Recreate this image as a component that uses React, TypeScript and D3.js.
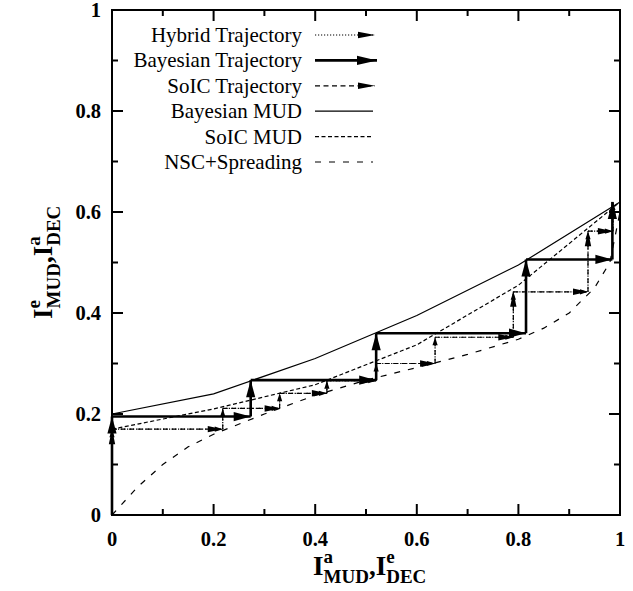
import React from 'react';
import * as d3 from 'd3';

// axis ticks
const majorTicks = [0, 0.2, 0.4, 0.6, 0.8, 1];
const tickLabels = ['0', '0.2', '0.4', '0.6', '0.8', '1'];
const minorTicks = [0.1, 0.3, 0.5, 0.7, 0.9];

// transfer curves
const bayesMudX = [0, 0.2, 0.4, 0.6, 0.8, 1];
const bayesMudY = [0.2, 0.24, 0.31, 0.395, 0.495, 0.62];
const soicMudX = [0, 0.2, 0.4, 0.6, 0.8, 1];
const soicMudY = [0.17, 0.21, 0.258, 0.337, 0.455, 0.62];
const nscX = [0, 0.05, 0.1, 0.15, 0.2, 0.3, 0.4, 0.5, 0.6, 0.7, 0.8, 0.85, 0.9, 0.95, 0.98, 1];
const nscY = [0, 0.055, 0.1, 0.135, 0.16, 0.2, 0.237, 0.267, 0.292, 0.318, 0.348, 0.37, 0.4, 0.45, 0.5, 0.6];

// trajectories (corner points)
const bayesTrajX = [0, 0, 0.273, 0.273, 0.52, 0.52, 0.815, 0.815, 0.985, 0.985];
const bayesTrajY = [0, 0.195, 0.195, 0.267, 0.267, 0.36, 0.36, 0.506, 0.506, 0.62];
const soicTrajX = [0, 0, 0.218, 0.218, 0.33, 0.33, 0.423, 0.423, 0.52, 0.52, 0.636, 0.636, 0.79, 0.79, 0.937, 0.937, 0.986, 0.986];
const soicTrajY = [0, 0.17, 0.17, 0.211, 0.211, 0.241, 0.241, 0.266, 0.266, 0.3, 0.3, 0.352, 0.352, 0.442, 0.442, 0.562, 0.562, 0.62];
// which SoIC steps carry the larger head (the others only show the hybrid head)
const soicHead = [1, 1, 0, 1, 0, 1, 0, 1, 0, 1, 0, 1, 1, 1, 1, 1, 1];

const legendNames = ['Hybrid Trajectory', 'Bayesian Trajectory', 'SoIC Trajectory', 'Bayesian MUD', 'SoIC MUD', 'NSC+Spreading'];

const W = 633, H = 591;
const font = "'Liberation Serif', 'DejaVu Serif', serif";

type Pt = [number, number];

const head = (a: Pt, b: Pt, len: number, hw: number) => {
  const dx = b[0] - a[0], dy = b[1] - a[1];
  const d = Math.hypot(dx, dy) || 1;
  const ux = dx / d, uy = dy / d;
  const bx = b[0] - ux * len, by = b[1] - uy * len;
  return `M${b[0]},${b[1]}L${bx - uy * hw},${by + ux * hw}L${bx + uy * hw},${by - ux * hw}Z`;
};

const Arrows = ({ pts, width, dash, len, hw, heads }: { pts: Pt[]; width: number; dash?: string; len: number; hw: number; heads?: number[] }) => (
  <g>
    {pts.slice(1).map((p, i) => {
      const a = pts[i];
      const show = heads ? heads[i] : 1;
      return (
        <g key={i}>
          <line x1={a[0]} y1={a[1]} x2={p[0]} y2={p[1]} stroke="#000" strokeWidth={width} strokeDasharray={dash} />
          {show ? <path d={head(a, p, len, hw)} fill="#000" /> : null}
        </g>
      );
    })}
  </g>
);

export default function App() {
  const x = d3.scaleLinear().domain([0, 1]).range([112, 620]);
  const y = d3.scaleLinear().domain([0, 1]).range([515, 10]);
  const line = d3.line<number>();

  const curve = (xs: number[], ys: number[]) =>
    d3.line<number>().x((_, i) => x(xs[i])).y((_, i) => y(ys[i]))(xs);

  const bayesPts: Pt[] = bayesTrajX.map((v, i) => [x(v), y(bayesTrajY[i])]);
  const soicPts: Pt[] = soicTrajX.map((v, i) => [x(v), y(soicTrajY[i])]);

  const ticks = (vals: number[], len: number) =>
    vals.map((v) => (
      <g key={`t${v}-${len}`}>
        <line x1={x(v)} x2={x(v)} y1={y(0)} y2={y(0) - len} />
        <line x1={x(v)} x2={x(v)} y1={y(1)} y2={y(1) + len} />
        <line x1={x(0)} x2={x(0) + len} y1={y(v)} y2={y(v)} />
        <line x1={x(1)} x2={x(1) - len} y1={y(v)} y2={y(v)} />
      </g>
    ));

  const lx0 = 315, lx1 = 375, ltx = 302;
  const ly = (i: number) => 35 + i * 25.4;
  const ts = { fontFamily: font };

  return (
    <svg width={W} height={H} style={{ position: 'absolute', left: 0, top: 0, background: '#fff', fontFamily: font }}>
      <rect width={W} height={H} fill="#fff" />

      {/* curves */}
      <path d={curve(bayesMudX, bayesMudY) || ''} fill="none" stroke="#000" strokeWidth={1.2} />
      <path d={curve(soicMudX, soicMudY) || ''} fill="none" stroke="#000" strokeWidth={1.2} strokeDasharray="4,2.5" />
      <path d={curve(nscX, nscY) || ''} fill="none" stroke="#000" strokeWidth={1.2} strokeDasharray="6,8" />

      {/* trajectories */}
      <Arrows pts={soicPts} width={1.2} dash="1.2,1.8" len={8} hw={2.6} />
      <Arrows pts={soicPts} width={1.2} dash="5,3.5" len={15} hw={3.2} heads={soicHead} />
      <Arrows pts={bayesPts} width={2.6} len={17} hw={4.6} />

      {/* frame and ticks */}
      <g stroke="#000" strokeWidth={2}>
        {ticks(majorTicks, 11)}
        {ticks(minorTicks, 6)}
        <rect x={x(0)} y={y(1)} width={x(1) - x(0)} height={y(0) - y(1)} fill="none" />
      </g>

      {/* tick labels */}
      <g fontWeight="bold" fontSize={20.5}>
        {majorTicks.map((v, i) => (
          <text key={`xl${i}`} style={ts} x={x(v)} y={546} textAnchor="middle">{tickLabels[i]}</text>
        ))}
        {majorTicks.map((v, i) => (
          <text key={`yl${i}`} style={ts} x={101} y={y(v) + 7} textAnchor="end">{tickLabels[i]}</text>
        ))}
      </g>

      {/* axis titles */}
      <text style={ts} x={313} y={575} fontWeight="bold" fontSize={27}>
        I<tspan fontSize={19} dy={-12}>a</tspan>
        <tspan fontSize={19} dx={-9.5} dy={20}>MUD</tspan>
        <tspan fontSize={27} dy={-8}>,I</tspan>
        <tspan fontSize={19} dy={-12}>e</tspan>
        <tspan fontSize={19} dx={-8.4} dy={20}>DEC</tspan>
      </text>
      <text style={ts} transform={`translate(52,319) rotate(-90)`} fontWeight="bold" fontSize={27}>
        I<tspan fontSize={19} dy={-12}>e</tspan>
        <tspan fontSize={19} dx={-8.4} dy={20}>MUD</tspan>
        <tspan fontSize={27} dy={-8}>,I</tspan>
        <tspan fontSize={19} dy={-12}>a</tspan>
        <tspan fontSize={19} dx={-9.5} dy={20}>DEC</tspan>
      </text>

      {/* legend */}
      <g fontSize={21}>
        {legendNames.map((n, i) => (
          <text key={n} style={ts} x={ltx} y={ly(i) + 7} textAnchor="end">{n}</text>
        ))}
      </g>
      <Arrows pts={[[lx0, ly(0)], [lx1, ly(0)]]} width={1.2} dash="1.2,1.8" len={17} hw={3.2} />
      <Arrows pts={[[lx0, ly(1)], [lx1 + 2, ly(1)]]} width={2.6} len={20} hw={4.6} />
      <Arrows pts={[[lx0, ly(2)], [lx1, ly(2)]]} width={1.2} dash="5,3.5" len={17} hw={3.2} />
      <path d={line([[lx0, ly(3)], [lx1 - 2, ly(3)]] as any) || ''} stroke="#000" strokeWidth={1.2} />
      <path d={line([[lx0, ly(4)], [lx1 - 2, ly(4)]] as any) || ''} stroke="#000" strokeWidth={1.2} strokeDasharray="4,2.5" />
      <path d={line([[lx0, ly(5)], [lx1 - 2, ly(5)]] as any) || ''} stroke="#000" strokeWidth={1.2} strokeDasharray="6,8" />
    </svg>
  );
}
